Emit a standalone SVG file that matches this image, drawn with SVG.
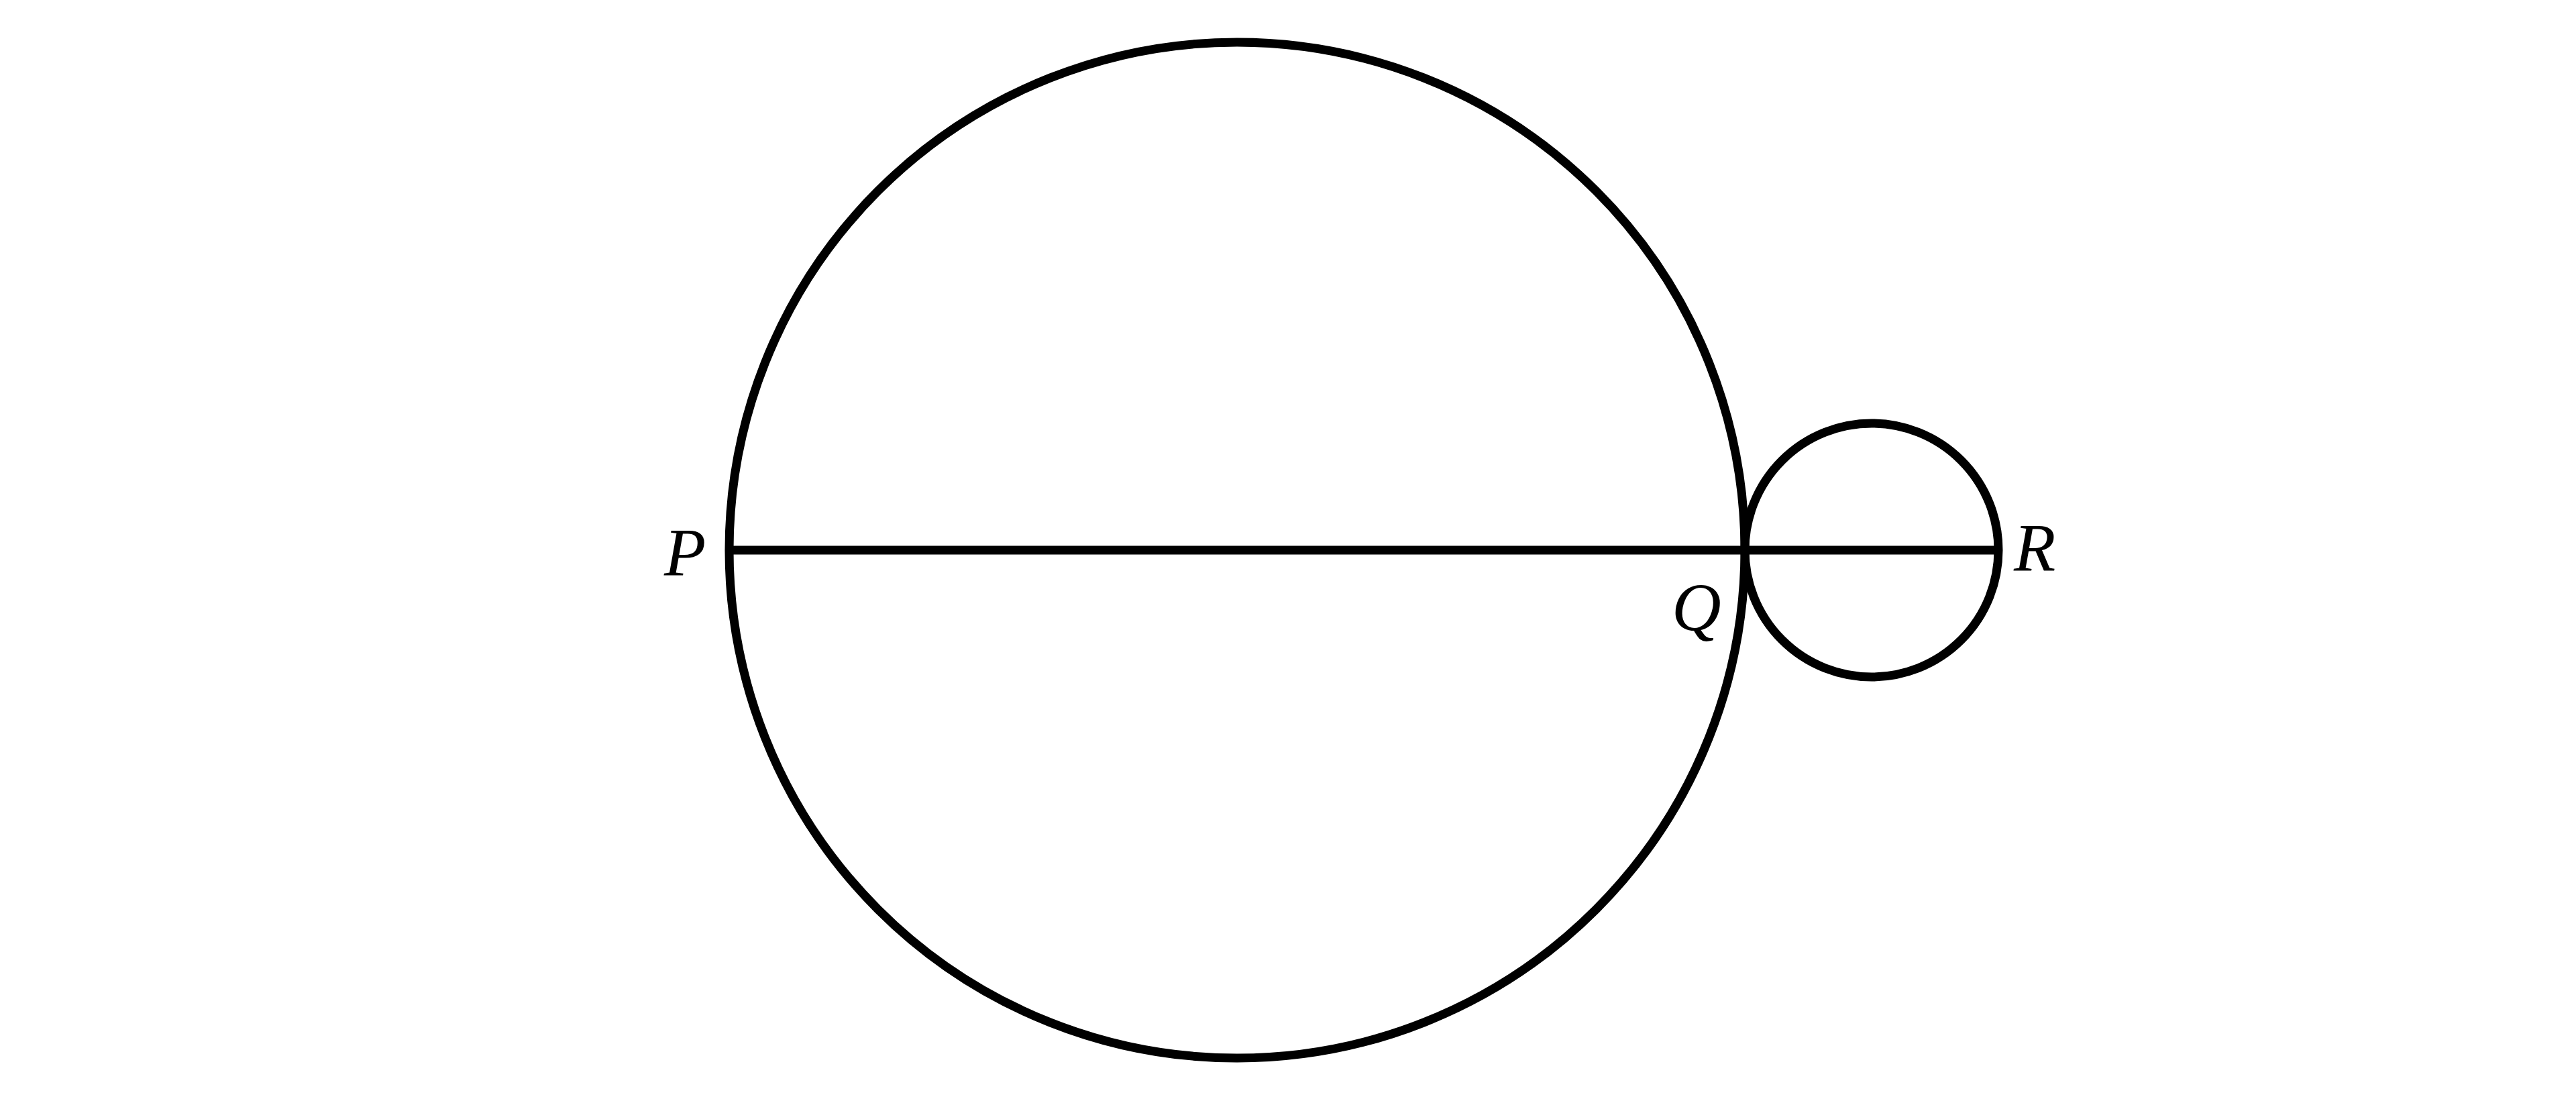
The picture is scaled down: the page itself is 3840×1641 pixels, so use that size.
<svg xmlns="http://www.w3.org/2000/svg" width="3840" height="1641" viewBox="0 0 3840 1641">
<style>
.s{fill:none;stroke:#000;stroke-width:13}
.t{font-family:"Liberation Serif","Times New Roman",serif;font-style:italic;font-size:102px;fill:#000}
</style>
<rect width="3840" height="1641" fill="#fff"/>
<g id="big-circle"><circle class="s" cx="1844" cy="820" r="757"/></g>
<g id="small-circle"><circle class="s" cx="2790" cy="820" r="189"/></g>
<g id="connectors"><line class="s" x1="1087" y1="820" x2="2979" y2="820"/></g>
<g id="label-P"><text class="t" x="990" y="858">P</text></g>
<g id="label-Q"><text class="t" x="2492" y="940">Q</text></g>
<g id="label-R"><text class="t" x="3002" y="851">R</text></g>
</svg>
